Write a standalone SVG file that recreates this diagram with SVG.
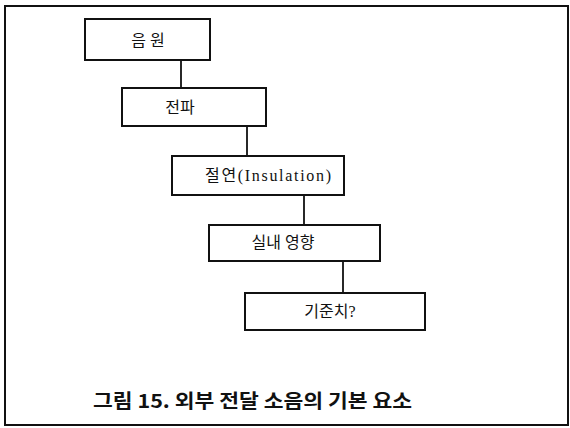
<svg xmlns="http://www.w3.org/2000/svg" width="570" height="428" viewBox="0 0 570 428">
<style>
.frame{fill:none;stroke:#111;stroke-width:2}
.box{fill:#fff;stroke:#111;stroke-width:2}
.con{fill:none;stroke:#111;stroke-width:1.8}
.lbl{font-family:"Liberation Serif","Noto Sans CJK KR",serif;font-size:16px;fill:#111;text-anchor:middle}
.cap{font-family:"Noto Sans CJK KR","Liberation Sans",sans-serif;font-size:19px;font-weight:bold;fill:#111}
</style>
<rect width="570" height="428" fill="#fff"/>
<rect class="frame" x="5" y="6" width="563" height="419"/>
<g id="connectors">
<line class="con" x1="181" y1="60" x2="181" y2="88"/>
<line class="con" x1="247" y1="126" x2="247" y2="156"/>
<line class="con" x1="304" y1="195" x2="304" y2="225"/>
<line class="con" x1="343" y1="261" x2="343" y2="293"/>
</g>
<g id="n1">
<rect class="box" x="85" y="19" width="125" height="41"/>
<text class="lbl" x="148" y="46">음 원</text>
</g>
<g id="n2">
<rect class="box" x="122" y="88" width="144" height="38"/>
<text class="lbl" x="180" y="113">전파</text>
</g>
<g id="n3">
<rect class="box" x="172" y="156" width="172" height="39"/>
<text class="lbl" x="268" y="181" textLength="126" lengthAdjust="spacing">절연(Insulation)</text>
</g>
<g id="n4">
<rect class="box" x="209" y="225" width="171" height="36"/>
<text class="lbl" x="283" y="248">실내  영향</text>
</g>
<g id="n5">
<rect class="box" x="245" y="293" width="180" height="37"/>
<text class="lbl" x="330" y="317">기준치?</text>
</g>
<text class="cap" x="93" y="408" textLength="319" lengthAdjust="spacingAndGlyphs">그림 15. 외부 전달 소음의 기본 요소</text>
</svg>
